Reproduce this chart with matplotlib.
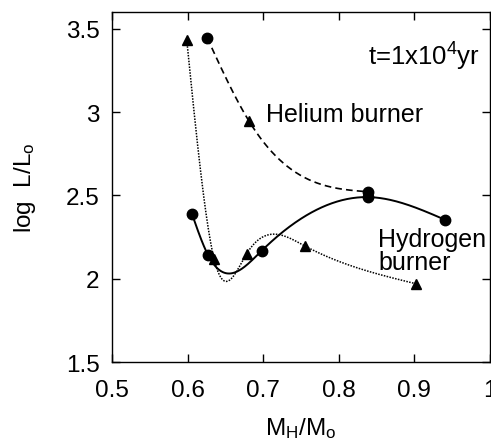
import numpy as np
import matplotlib
matplotlib.use("Agg")
import matplotlib.pyplot as plt

plt.rcParams['font.family'] = ['Liberation Sans', 'DejaVu Sans']
plt.rcParams['mathtext.fontset'] = 'custom'
plt.rcParams['mathtext.rm'] = 'Liberation Sans'
plt.rcParams['mathtext.it'] = 'Liberation Sans'

# Helium burner (dashed)
he_x = [0.626, 0.681, 0.839]
he_y = [3.445, 2.948, 2.522]
he_marker = ['o', '^', 'o']

# Hydrogen burner, circles (solid)
hc_x = [0.606, 0.627, 0.698, 0.839, 0.941]
hc_y = [2.387, 2.143, 2.168, 2.490, 2.353]

# Triangles (dotted)
tr_x = [0.599, 0.635, 0.678, 0.755, 0.902]
tr_y = [3.430, 2.120, 2.149, 2.197, 1.970]

xticks = [0.5, 0.6, 0.7, 0.8, 0.9, 1.0]
xticklabels = ['0.5', '0.6', '0.7', '0.8', '0.9', '1']
yticks = [1.5, 2.0, 2.5, 3.0, 3.5]
yticklabels = ['1.5', '2', '2.5', '3', '3.5']


def natural_spline(x, y, n=300):
    x = np.asarray(x, float)
    y = np.asarray(y, float)
    m = len(x)
    h = np.diff(x)
    A = np.zeros((m, m))
    b = np.zeros(m)
    A[0, 0] = 1
    A[-1, -1] = 1
    for i in range(1, m - 1):
        A[i, i - 1] = h[i - 1]
        A[i, i] = 2 * (h[i - 1] + h[i])
        A[i, i + 1] = h[i]
        b[i] = 6 * ((y[i + 1] - y[i]) / h[i] - (y[i] - y[i - 1]) / h[i - 1])
    M = np.linalg.solve(A, b)
    xs = np.linspace(x[0], x[-1], n)
    idx = np.clip(np.searchsorted(x, xs) - 1, 0, m - 2)
    x0, x1 = x[idx], x[idx + 1]
    hh = x1 - x0
    t0 = x1 - xs
    t1 = xs - x0
    ys = (M[idx] * t0 ** 3 / (6 * hh) + M[idx + 1] * t1 ** 3 / (6 * hh)
          + (y[idx] / hh - M[idx] * hh / 6) * t0
          + (y[idx + 1] / hh - M[idx + 1] * hh / 6) * t1)
    return xs, ys


fig = plt.figure(figsize=(4.91, 4.39), dpi=100)
ax = fig.add_axes([0.228, 0.173, 0.770, 0.797])

sx, sy = natural_spline(he_x, he_y)
ax.plot(sx, sy, color='black', lw=1.2, linestyle=(0, (4, 2.5)))
sx, sy = natural_spline(hc_x, hc_y)
ax.plot(sx, sy, color='black', lw=1.4, linestyle='-')
sx, sy = natural_spline(tr_x, tr_y)
ax.plot(sx, sy, color='black', lw=1.1, linestyle=(0, (1, 0.9)))

for x, y, mk in zip(he_x, he_y, he_marker):
    ax.plot([x], [y], marker=mk, color='black', ms=7.5 if mk == 'o' else 7, linestyle='none')
ax.plot(hc_x, hc_y, 'o', color='black', ms=7.5)
ax.plot(tr_x, tr_y, '^', color='black', ms=7)

ax.set_xlim(0.5, 1.0)
ax.set_ylim(1.5, 3.6)
ax.set_xticks(xticks)
ax.set_xticklabels(xticklabels)
ax.set_yticks(yticks)
ax.set_yticklabels(yticklabels)
ax.tick_params(direction='in', length=6, width=1, top=True, right=True,
               labelsize=17.5, pad=9)
ax.tick_params(axis='x', pad=12)
for s in ax.spines.values():
    s.set_linewidth(1.0)

ax.set_xlabel(r'$\mathregular{M_H/M_o}$', fontsize=17.5, labelpad=10)
ax.set_ylabel(r'$\mathregular{log\ \ L/L_o}$', fontsize=17.5, labelpad=20)

ax.text(0.987, 3.286, r't=1x10$^\mathregular{4}$yr', fontsize=18.5, ha='right', va='baseline')
ax.text(0.704, 2.99, 'Helium burner', fontsize=18, ha='left', va='center')
ax.text(0.852, 2.17, 'Hydrogen\nburner', fontsize=18, ha='left', va='center',
        linespacing=0.95)

fig.savefig('out.png', dpi=100)
